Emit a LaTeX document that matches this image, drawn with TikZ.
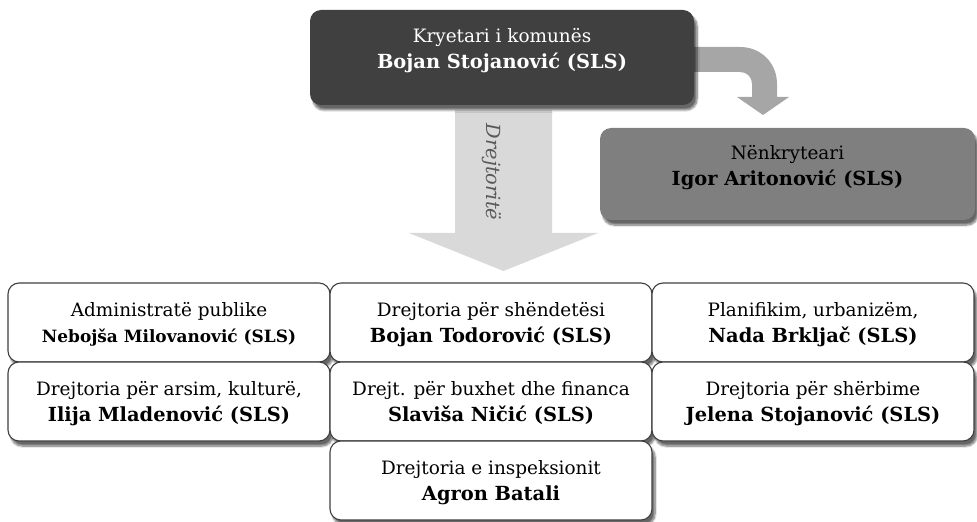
\documentclass[tikz,border=0pt]{standalone}
\usepackage{fontspec}
\setmainfont{DejaVu Serif}
\usepackage{tikz}
\usetikzlibrary{positioning,calc,shadows.blur}
\definecolor{chiefgray}{HTML}{404040}
\definecolor{deputygray}{HTML}{7F7F7F}
\definecolor{bendgray}{HTML}{A6A6A6}
\definecolor{shaftgray}{HTML}{D9D9D9}
\definecolor{labelgray}{HTML}{595959}
\newcommand\headname[1]{{\fontsize{19.5}{26}\selectfont\bfseries #1}}
\begin{document}
\begin{tikzpicture}[x=1bp,y=-1bp,
box/.style={rounded corners=11bp,align=center,inner sep=0pt,
  font=\fontsize{18.5}{26}\selectfont,
  blur shadow={shadow xshift=3bp,shadow yshift=-5bp,shadow blur steps=8,shadow opacity=60}},
chief/.style={box,fill=chiefgray,text=white,minimum width=384bp,minimum height=95bp,text depth=19bp},
deputy/.style={box,fill=deputygray,text=black,minimum width=375bp,minimum height=92bp,text depth=17bp},
dept/.style={box,draw=chiefgray,line width=1.1pt,fill=white,minimum width=322bp,minimum height=79bp,text depth=0bp}]
\useasboundingbox (0,0) rectangle (977,522);
% arrows behind the boxes
\fill[shaftgray] (455,110) -- (552,110) -- (552,233) -- (598,233) -- (503.5,271)
  -- (409,233) -- (455,233) -- cycle;
\node[rotate=-90,font=\itshape\fontsize{19.5}{22}\selectfont,text=labelgray] (dirs) at (492,172) {Drejtoritë};
\fill[bendgray] (680,47) -- (740,47) .. controls (761,47) and (777,63) .. (777,84)
  -- (777,97) -- (789,97) -- (763,115) -- (737,97) -- (752,97) -- (752,84)
  .. controls (752,77) and (747,72) .. (740,72) -- (680,72) -- cycle;
% top
\node[chief] (mayor) at (502,57.5) {Kryetari i komunës\\\headname{Bojan Stojanović (SLS)}};
\node[deputy] (vice) at (787.5,174) {Nënkryteari\\\headname{Igor Aritonović (SLS)}};
% directorates
\node[dept] (admin) at (169,322.5) {Administratë publike\\{\fontsize{17}{26}\selectfont\bfseries Nebojša Milovanović (SLS)}};
\node[dept] (health) at (491,322.5) {Drejtoria për shëndetësi\\\headname{Bojan Todorović (SLS)}};
\node[dept] (urban) at (813,322.5) {Planifikim, urbanizëm,\\\headname{Nada Brkljač (SLS)}};
\node[dept] (edu) at (169,401.5) {Drejtoria për arsim, kulturë,\\\headname{Ilija Mladenović (SLS)}};
\node[dept] (budget) at (491,401.5) {Drejt. për buxhet dhe financa\\\headname{Slaviša Ničić (SLS)}};
\node[dept] (serv) at (813,401.5) {Drejtoria për shërbime\\\headname{Jelena Stojanović (SLS)}};
\node[dept] (insp) at (491,480.5) {Drejtoria e inspeksionit\\\headname{Agron Batali}};
\end{tikzpicture}
\end{document}
